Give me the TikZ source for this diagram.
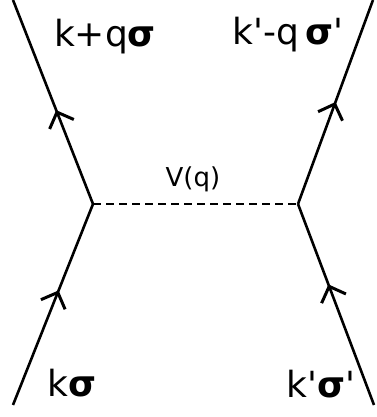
\documentclass[tikz,border=0pt]{standalone}
\usepackage{fontspec}
\setmainfont{DejaVu Sans}
\newfontfamily\sigmafont{DejaVu Sans Bold}
\usetikzlibrary{arrows.meta,decorations.markings}
\tikzset{
  fermion/.style={line width=2.6pt,postaction={decorate},
    decoration={markings,mark=at position #1 with {\arrow{Straight Barb[length=13pt,width=26pt,line width=3pt]}}}},
  lbl/.style={font=\fontsize{36}{40}\selectfont,anchor=base,inner sep=0pt}
}
\newcommand{\sg}{{\sigmafont σ}}
\newcommand{\pr}{\textquotesingle}
\begin{document}
\begin{tikzpicture}[x=1pt,y=1pt]
  \useasboundingbox (0,0) rectangle (376,417);
  % vertices and external legs
  \coordinate (vl) at (93,213);
  \coordinate (vr) at (298,213);
  \coordinate (kin) at (13,12);
  \coordinate (kout) at (13,417);
  \coordinate (kpin) at (374,12);
  \coordinate (kpout) at (373,417);
  \draw[fermion=0.57] (kin) -- (vl);
  \draw[fermion=0.46] (vl) -- (kout);
  \draw[fermion=0.6] (kpin) -- (vr);
  \draw[fermion=0.5] (vr) -- (kpout);
  \draw[line width=2pt,dash pattern=on 8pt off 5pt] (vl) -- (vr);
  % labels
  \node[lbl] (lkq) at (105,370) {k+q\sg};
  \node[lbl] (lkpq) at (288,372) {k\pr-q\,\sg\pr};
  \node[lbl,font=\fontsize{26}{28}\selectfont] (lv) at (193,230) {V(q)};
  \node[lbl] (lk) at (72,20) {k\sg};
  \node[lbl] (lkp) at (321,19) {k\pr\sg\pr};
\end{tikzpicture}
\end{document}
